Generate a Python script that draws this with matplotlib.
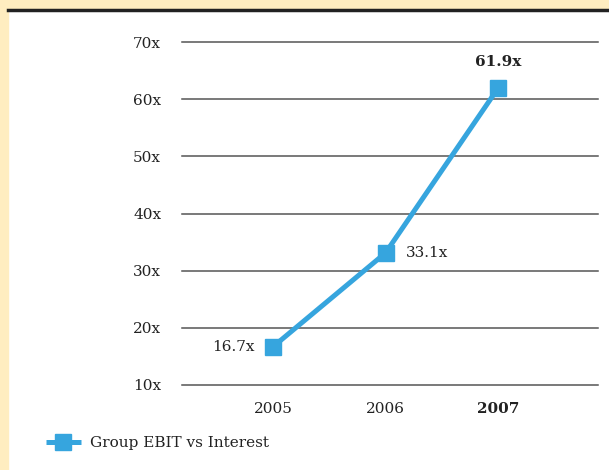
import matplotlib.pyplot as plt
from matplotlib.patches import Rectangle
from matplotlib.lines import Line2D

years = ['2005', '2006', '2007']
cover = [16.7, 33.1, 61.9]
labels = ['16.7x', '33.1x', '61.9x']
yticks = [10, 20, 30, 40, 50, 60, 70]

blue = '#36a5de'
cream = '#ffedc0'
txt = '#222222'

plt.rcParams['font.family'] = ['DejaVu Serif']

fig = plt.figure(figsize=(6.09, 4.70), dpi=100)
W, H = 609, 470

# cream frame on left and top, black rule under it
fig.patches.append(Rectangle((0, 0), 8 / W, 1, transform=fig.transFigure, color=cream, zorder=0))
fig.patches.append(Rectangle((0, 1 - 8 / H), 1, 8 / H, transform=fig.transFigure, color=cream, zorder=0))
fig.add_artist(Line2D([8 / W, 1], [1 - 9.5 / H, 1 - 9.5 / H], transform=fig.transFigure, color='#222222', lw=2.5))

ax = fig.add_axes([182 / W, (H - 385) / H, (598 - 182) / W, (385 - 42) / H])
x = list(range(len(years)))
ax.plot(x, cover, color=blue, lw=3.6, marker='s', ms=11.5, solid_capstyle='butt',
        label='Group EBIT vs Interest', zorder=3)

for t in yticks:
    ax.axhline(t, color='#555555', lw=1.1, zorder=1, clip_on=False)

ax.set_xlim(-0.81, 2.89)
ax.set_ylim(10, 70)
ax.set_yticks(yticks)
ax.set_yticklabels([f'{t}x' for t in yticks], fontsize=11, color=txt)
ax.set_xticks(x)
ax.set_xticklabels(years, fontsize=11, color=txt)
ax.get_xticklabels()[2].set_fontweight('bold')
ax.tick_params(length=0)
ax.tick_params(axis='y', pad=15)
ax.tick_params(axis='x', pad=12)
for s in ax.spines.values():
    s.set_visible(False)

ax.annotate(labels[0], (x[0], cover[0]), xytext=(-13, 0), textcoords='offset points',
            ha='right', va='center', fontsize=11, color=txt)
ax.annotate(labels[1], (x[1], cover[1]), xytext=(15, 0), textcoords='offset points',
            ha='left', va='center', fontsize=11, color=txt)
ax.annotate(labels[2], (x[2], cover[2]), xytext=(0, 19), textcoords='offset points',
            ha='center', va='center', fontsize=11, color=txt, fontweight='bold')

fig.legend(loc='center left', bbox_to_anchor=(32 / W, 27 / H), frameon=False,
           fontsize=11, handlelength=2.3, handletextpad=0.6, labelcolor=txt)

fig.savefig('out.png', dpi=100, facecolor='white')
